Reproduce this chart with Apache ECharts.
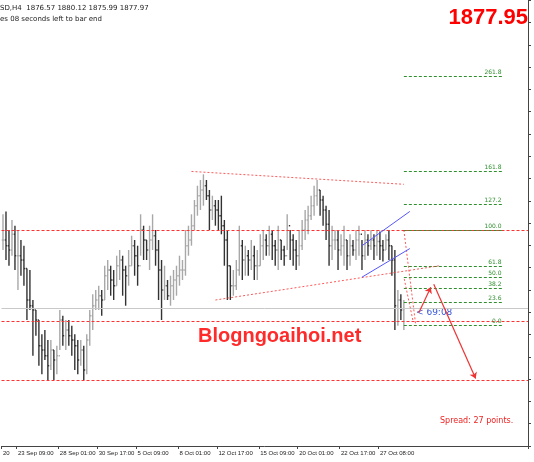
<!DOCTYPE html>
<html><head><meta charset="utf-8">
<script src="https://cdn.jsdelivr.net/npm/echarts@6/dist/echarts.min.js"></script>
<style>html,body{margin:0;padding:0;background:#fff}#main{width:534px;height:462px}</style>
</head><body><div id="main"></div>
<script>
// H4 bars: high, low, close (open = previous close)
var highs = [1944,1946,1933,1940,1936,1933,1926,1922,1906,1905,1884,1877,1870,1860,1863,1856,1856,1849,1852,1877,1873,1870,1870,1866,1860,1856,1856,1852,1860,1877,1888,1891,1894,1891,1908,1912,1908,1905,1915,1919,1915,1908,1919,1929,1926,1922,1944,1936,1926,1936,1944,1933,1926,1912,1908,1898,1901,1905,1908,1915,1912,1933,1936,1944,1954,1964,1968,1972,1968,1961,1957,1954,1954,1957,1940,1933,1908,1905,1912,1936,1926,1922,1919,1926,1922,1919,1930,1933,1930,1936,1933,1926,1936,1926,1922,1944,1933,1930,1926,1933,1940,1947,1950,1957,1964,1968,1961,1957,1950,1947,1936,1933,1933,1930,1936,1926,1930,1926,1933,1936,1926,1933,1930,1933,1930,1933,1932,1926,1930,1933,1922,1919,1891,1888,1884];
var lows = [1919,1912,1908,1915,1905,1891,1901,1894,1870,1877,1845,1859,1838,1832,1842,1828,1835,1828,1832,1849,1852,1849,1852,1845,1835,1832,1838,1828,1832,1852,1863,1877,1877,1873,1884,1891,1887,1884,1894,1898,1887,1880,1894,1908,1901,1894,1915,1912,1912,1905,1919,1908,1884,1870,1884,1884,1880,1884,1887,1894,1898,1901,1915,1922,1933,1943,1947,1950,1954,1933,1940,1936,1933,1930,1908,1884,1884,1887,1891,1901,1898,1901,1901,1905,1898,1898,1908,1912,1915,1915,1912,1908,1905,1912,1908,1919,1912,1908,1905,1908,1919,1926,1930,1940,1943,1950,1943,1936,1926,1908,1912,1919,1905,1915,1908,1905,1908,1915,1912,1915,1905,1912,1915,1919,1912,1915,1912,1911,1919,1912,1901,1863,1866,1870,1863];
var closes = [1926,1922,1919,1930,1915,1915,1912,1906,1884,1880,1877,1870,1852,1849,1845,1838,1849,1842,1845,1870,1859,1863,1859,1856,1852,1842,1849,1835,1856,1873,1880,1884,1887,1884,1901,1905,1898,1894,1908,1912,1905,1901,1908,1922,1915,1908,1933,1926,1919,1926,1929,1919,1905,1891,1894,1887,1894,1898,1901,1905,1905,1922,1926,1936,1950,1957,1961,1964,1957,1947,1950,1947,1943,1936,1926,1908,1894,1894,1905,1922,1912,1915,1912,1915,1908,1908,1922,1926,1922,1930,1922,1919,1926,1919,1915,1936,1926,1919,1915,1922,1933,1940,1943,1950,1957,1961,1954,1947,1937,1922,1926,1926,1919,1922,1926,1915,1922,1919,1926,1930,1915,1926,1922,1926,1922,1925,1922,1919,1926,1922,1912,1880,1884,1877,1877.97];
var axisLabels = {0: '20', 5: '23 Sep 09:00', 19: '28 Sep 01:00', 32: '30 Sep 17:00', 45: '5 Oct 09:00', 59: '8 Oct 01:00', 72: '12 Oct 17:00', 86: '15 Oct 09:00', 99: '20 Oct 01:00', 113: '22 Oct 17:00', 126: '27 Oct 08:00'};
var fibRatios = [0, 23.6, 38.2, 50, 61.8, 100, 127.2, 161.8, 261.8];
var fibLow = 1866.5, fibHigh = 1933;
var levelLines = [1933, 1869.3, 1828];
var lastPrice = 1877.95;

var nSlots = 176;
var cats = [], rows = [];
for (var i = 0; i < nSlots; i++) {
    cats.push(i);
    if (i < highs.length) {
        var o = i > 0 ? closes[i - 1] : closes[0];
        rows.push([i, o, highs[i], lows[i], closes[i]]);
    }
}

var red = '#ff3030', green = '#2f8f2f';
var fibLines = fibRatios.map(function (r) {
    var p = fibLow + (fibHigh - fibLow) * r / 100;
    return [{coord: [134, p], label: {formatter: r.toFixed(1)}}, {coord: [167, p]}];
});
var levels = levelLines.map(function (p) { return {yAxis: p}; });

var chart = echarts.init(document.getElementById('main'));
chart.setOption({
    animation: false,
    grid: {left: 0, right: 6, top: 0, height: 446},
    xAxis: {
        type: 'category', data: cats, boundaryGap: true,
        axisLine: {lineStyle: {color: '#444'}},
        axisTick: {show: true, lineStyle: {color: '#444'}, length: 3,
            interval: function (idx) { return axisLabels[idx] !== undefined; }},
        axisLabel: {interval: 0, align: 'left', fontSize: 6, color: '#222', margin: 4,
            fontFamily: 'Liberation Sans', formatter: function (v) { return axisLabels[v] || ''; }}
    },
    yAxis: {
        type: 'value', position: 'right', min: 1781.8, max: 2094, scale: true,
        splitLine: {show: false},
        axisLine: {show: true, lineStyle: {color: '#444'}},
        axisTick: {show: true, length: 3, inside: false},
        axisLabel: {show: false}, interval: 15.6
    },
    series: [{
        type: 'custom',
        renderItem: function (params, api) {
            var x = api.coord([api.value(0), 0])[0];
            var o = api.coord([api.value(0), api.value(1)])[1];
            var h = api.coord([api.value(0), api.value(2)])[1];
            var l = api.coord([api.value(0), api.value(3)])[1];
            var c = api.coord([api.value(0), api.value(4)])[1];
            var col = api.value(4) >= api.value(1) ? '#a8a8a8' : '#333';
            var st = {stroke: col, lineWidth: 1.4};
            return {type: 'group', children: [
                {type: 'line', shape: {x1: x, y1: h, x2: x, y2: l}, style: st},
                {type: 'line', shape: {x1: x - 1.2, y1: o, x2: x, y2: o}, style: st},
                {type: 'line', shape: {x1: x, y1: c, x2: x + 1.2, y2: c}, style: st}
            ]};
        },
        encode: {x: 0, y: [1, 2, 3, 4]},
        data: rows,
        markLine: {
            silent: true, symbol: 'none',
            label: {show: false},
            lineStyle: {color: red, type: [3, 2], width: 1},
            data: levels.concat([
                {yAxis: lastPrice, lineStyle: {color: '#c8c8c8', type: 'solid'}}
            ])
        },
        z: 3
    }, {
        type: 'line', data: [], 
        markLine: {
            silent: true, symbol: 'none',
            lineStyle: {color: green, type: [3, 2], width: 1},
            label: {show: true, position: 'insideEndTop', color: green, fontSize: 6, distance: 1, fontFamily: 'DejaVu Sans'},
            data: fibLines
        }
    }, {
        type: 'line', data: [],
        markLine: {
            silent: true, symbol: 'none', label: {show: false},
            lineStyle: {color: red, type: [2, 2], width: 1, opacity: 0.8},
            data: [
                [{coord: [63, 1974]}, {coord: [134, 1965]}],
                [{coord: [71, 1884]}, {coord: [146, 1908]}],
                [{coord: [134, 1933]}, {coord: [138, 1866]}],
                [{coord: [137, 1870]}, {coord: [134, 1900]}]
            ]
        }
    }, {
        type: 'line', data: [],
        markLine: {
            silent: true, symbol: 'none', label: {show: false},
            lineStyle: {color: '#5555ff', type: 'solid', width: 1},
            data: [
                [{coord: [120, 1922]}, {coord: [136, 1946]}],
                [{coord: [120, 1900]}, {coord: [136, 1920]}]
            ]
        }
    }, {
        type: 'line', data: [],
        markLine: {
            silent: true, symbol: ['none', 'arrow'], symbolSize: 6, label: {show: false},
            lineStyle: {color: '#ee3333', type: 'solid', width: 1.2},
            data: [
                [{coord: [139, 1875]}, {coord: [143, 1893]}],
                [{coord: [144, 1895]}, {coord: [158, 1829]}]
            ]
        }
    }],
    graphic: [
        {type: 'text', left: 0, top: 5, style: {text: 'SD,H4  1876.57 1880.12 1875.99 1877.97', fontSize: 7, fill: '#222', fontFamily: 'DejaVu Sans'}},
        {type: 'text', left: 0, top: 16, style: {text: 'es 08 seconds left to bar end', fontSize: 7, fill: '#222', fontFamily: 'DejaVu Sans'}},
        {type: 'text', right: 6, top: 7, style: {text: '1877.95', fontSize: 22, fontWeight: 'bold', fill: '#ff0000', fontFamily: 'Liberation Sans'}},
        {type: 'text', left: 198, top: 326, style: {text: 'Blogngoaihoi.net', fontSize: 20, fontWeight: 'bold', fill: '#ff2a2a', fontFamily: 'Liberation Sans'}},
        {type: 'text', left: 416, top: 308, style: {text: '< 69:08', fontSize: 9, fill: '#3355dd', fontFamily: 'DejaVu Sans'}},
        {type: 'text', left: 440, top: 417, style: {text: 'Spread: 27 points.', fontSize: 8, fill: '#ee2222', fontFamily: 'DejaVu Sans'}}
    ]
});
</script></body></html>
